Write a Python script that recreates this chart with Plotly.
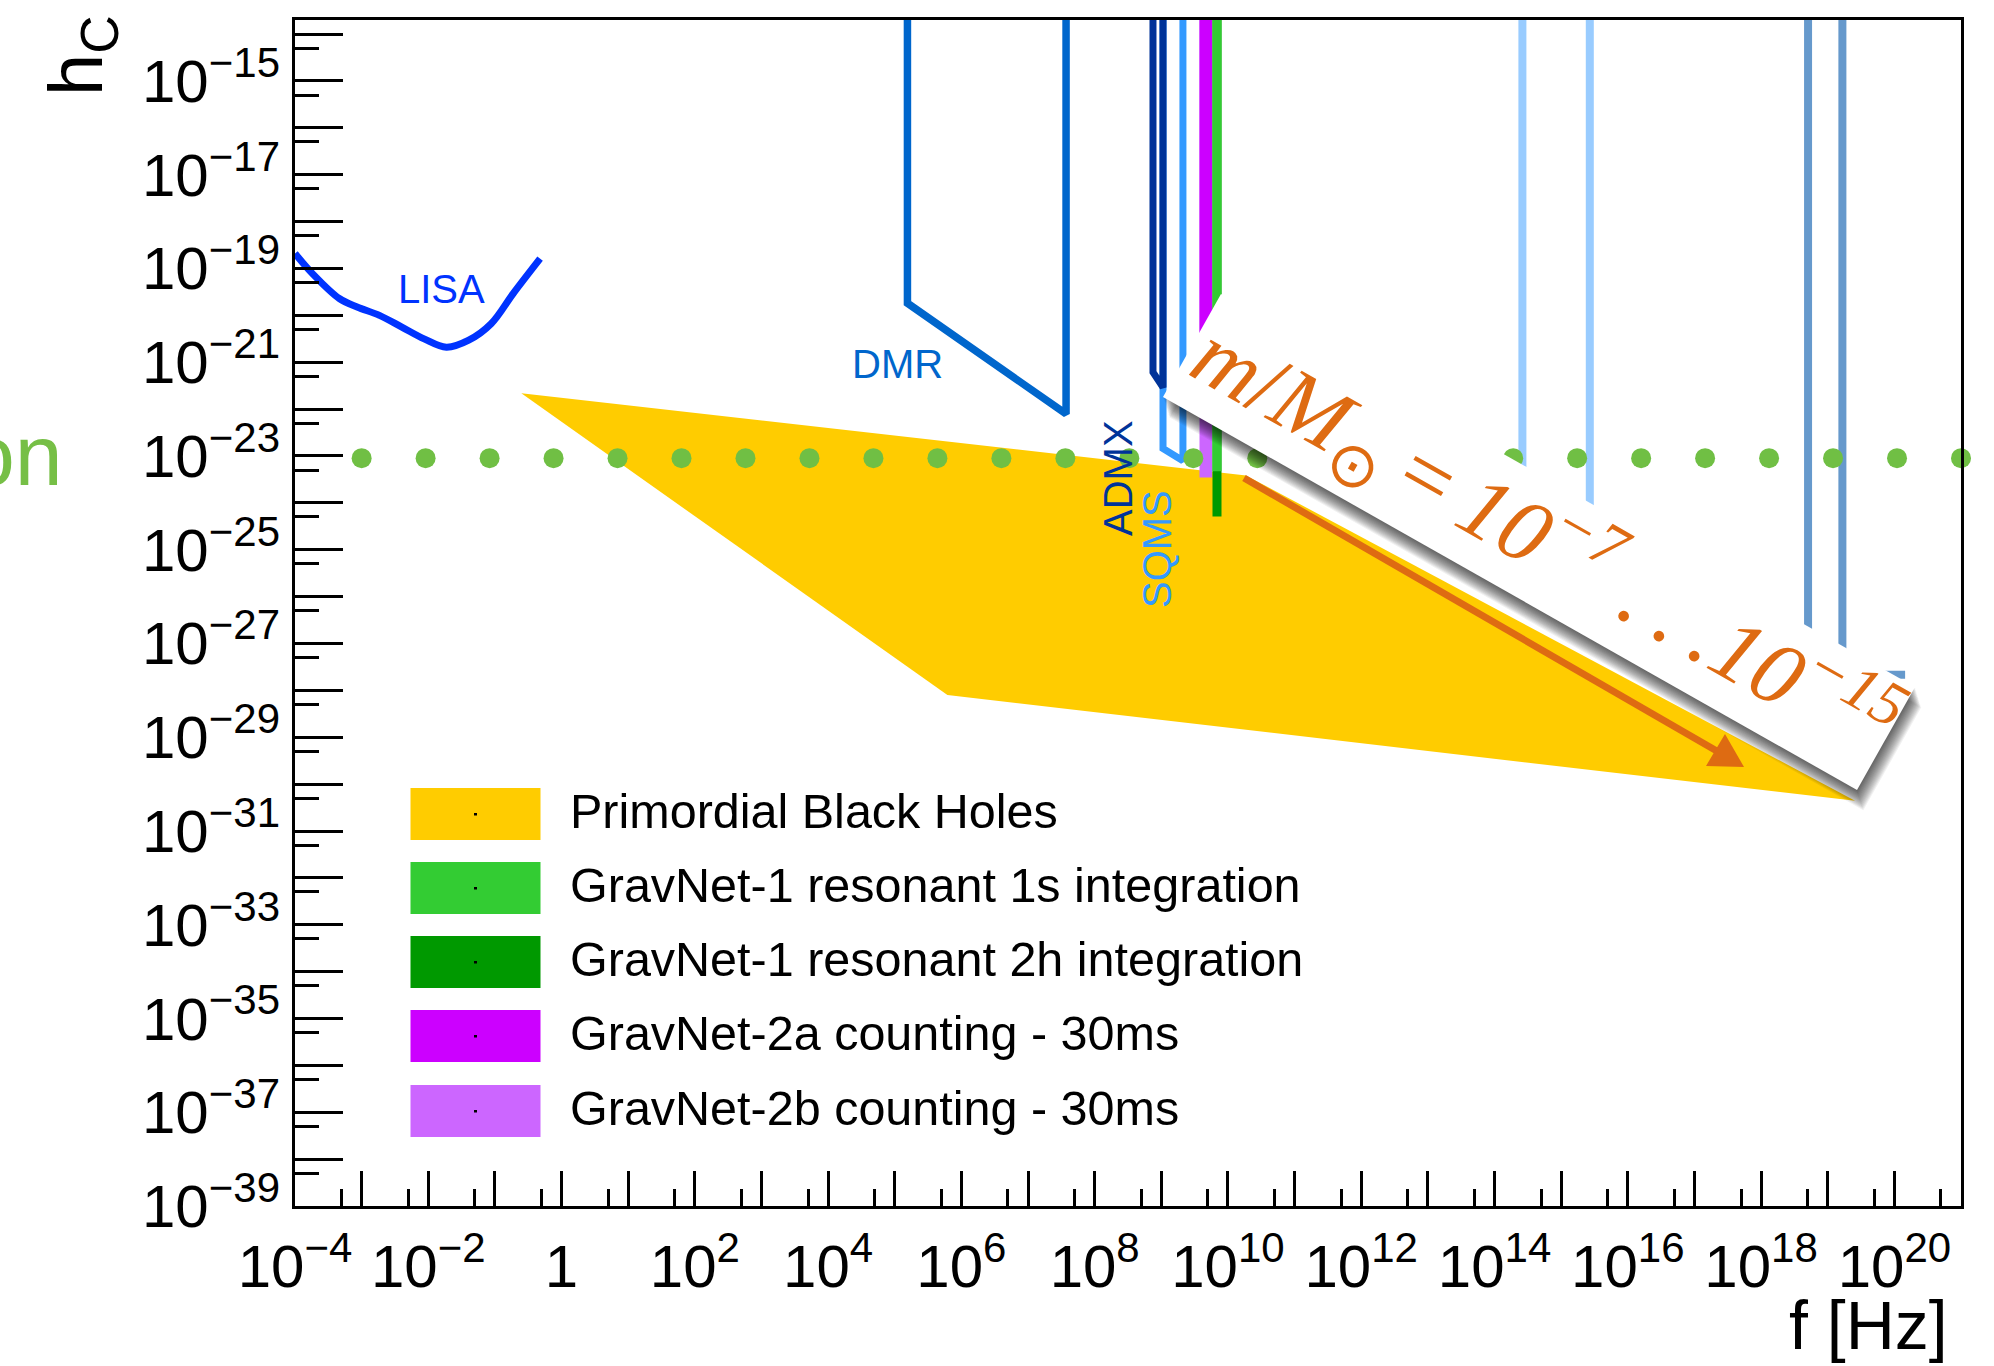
import numpy as np
import plotly.graph_objects as go

# ---------------- data (f in Hz, characteristic strain h_c) ----------------
H_TOP = 1e-13  # detector curves continue above the frame

lisa_f = [1.0e-4, 1.83e-4, 4.62e-4, 8.55e-4, 1.85e-3, 4.01e-3, 8.65e-3,
          1.87e-2, 4.05e-2, 8.77e-2, 0.189, 0.476]
lisa_h = [2.09e-19, 7.76e-20, 2.29e-20, 1.51e-20, 1.0e-20, 5.62e-21, 3.16e-21,
          2.09e-21, 2.95e-21, 6.61e-21, 2.95e-20, 1.62e-19]

dmr_f = [1.55e5, 1.55e5, 3.72e7, 3.72e7]
dmr_h = [H_TOP, 1.82e-20, 7.9e-23, H_TOP]

admx_f = [7.5e8, 7.5e8, 1.06e9, 1.06e9]
admx_h = [H_TOP, 6.1e-22, 2.9e-22, H_TOP]

sqms_f = [1.06e9, 1.06e9, 2.11e9, 2.11e9]
sqms_h = [H_TOP, 1.45e-23, 7.9e-24, H_TOP]

optical_f = [2.62e14, 2.62e14, 2.69e15, 2.69e15]
optical_h = [H_TOP, 5.9e-26, 5.9e-26, H_TOP]

xray_a_f = [5.07e18, 5.07e18]
xray_a_h = [H_TOP, 6.0e-29]
xray_b_f = [1.66e19, 1.66e19, 1.45e20]
xray_b_h = [H_TOP, 2.16e-28, 2.16e-28]

pbh_f = [0.249, 1.87e10, 2.57e19, 6.17e5]
pbh_h = [2.17e-22, 3.85e-24, 4.42e-31, 7.98e-29]

gn2_f = [3.74e9, 5.80e9]
gn2a_h = 4.0e-22
gn2b_h = 3.48e-24
gn1_f = [5.86e9, 8.0e9]
gn1_1s_h = 4.7e-24
gn1_2h_h = 5.1e-25

dotline_h = 9e-24
dotline_f = [1e-3, 1e21]
dotline_n = 26

legend_labels = ["Primordial Black Holes",
                 "GravNet-1 resonant 1s integration",
                 "GravNet-1 resonant 2h integration",
                 "GravNet-2a counting - 30ms",
                 "GravNet-2b counting - 30ms"]
legend_colors = ["#ffcc00", "#33cc33", "#009900", "#cc00ff", "#cc66ff"]

x_label_exps = list(range(-4, 21, 2))
x_plain_exps = list(range(-3, 22, 2))
y_label_exps = list(range(-39, -14, 2))
y_plain_exps = list(range(-38, -13, 2))


def exp_label(e):
    if e == 0:
        return "1"
    if e < 0:
        return "10<sup>\u2212%d</sup>" % (-e)
    return "10<sup>%d</sup>" % e


x_tickvals = [10.0 ** e for e in x_label_exps]
x_ticktext = [exp_label(e) for e in x_label_exps]
x_plain = [10.0 ** e for e in x_plain_exps]
x_minor = [5 * 10.0 ** e for e in range(-4, 21)]
y_tickvals = [10.0 ** e for e in y_label_exps]
y_ticktext = [exp_label(e) for e in y_label_exps]
y_plain = [10.0 ** e for e in y_plain_exps]
y_minor = [5 * 10.0 ** e for e in range(-39, -14)]

# ---------------- geometry helpers (pixel -> paper) ----------------
W, H = 1994, 1366
L, R, T, B = 295, 1961, 20, 1206


def P(x, y):
    return (x - L) / (R - L), (B - y) / (B - T)


def poly_path(pts):
    s = []
    for i, (x, y) in enumerate(pts):
        u, v = P(x, y)
        s.append(("M" if i == 0 else "L") + f"{u:.5f},{v:.5f}")
    return " ".join(s) + " Z"


SANS = "Liberation Sans, Arial, Helvetica, sans-serif"
SERIF = "Liberation Serif, Times New Roman, serif"
ORANGE = "#de6b12"
DOTGREEN = "#70bf44"

fig = go.Figure()


def band(f, hbot, color):
    fig.add_trace(go.Scatter(
        x=[f[0], f[1], f[1], f[0], f[0]],
        y=[H_TOP, H_TOP, hbot, hbot, H_TOP],
        mode="lines", fill="toself", fillcolor=color,
        line=dict(width=0, color=color), showlegend=False, hoverinfo="skip"))


def curve(f, h, color, width, shape="linear"):
    fig.add_trace(go.Scatter(x=f, y=h, mode="lines",
                             line=dict(color=color, width=width, shape=shape),
                             showlegend=False, hoverinfo="skip"))


# PBH region
fig.add_trace(go.Scatter(x=pbh_f + [pbh_f[0]], y=pbh_h + [pbh_h[0]], mode="lines",
                         fill="toself", fillcolor="#ffcc00",
                         line=dict(width=0, color="#ffcc00"),
                         showlegend=False, hoverinfo="skip"))

curve(optical_f, optical_h, "#99ccff", 8)
curve(xray_a_f, xray_a_h, "#6699cc", 8)
curve(xray_b_f, xray_b_h, "#6699cc", 8)
curve(dmr_f, dmr_h, "#0066cc", 7.5)

band(gn2_f, gn2b_h, "#cc66ff")
band(gn2_f, gn2a_h, "#cc00ff")
band(gn1_f, gn1_2h_h, "#009900")
band(gn1_f, gn1_1s_h, "#33cc33")

curve(sqms_f, sqms_h, "#3399ff", 7)
curve(admx_f, admx_h, "#003399", 7)
curve(lisa_f, lisa_h, "#0033ff", 7, shape="spline")

# dotted line (dot spacing is the line style)
dot_x = np.logspace(np.log10(dotline_f[0]), np.log10(dotline_f[1]), dotline_n)
fig.add_trace(go.Scatter(x=dot_x, y=[dotline_h] * dotline_n, mode="markers",
                         marker=dict(size=20, color=DOTGREEN, line=dict(width=0)),
                         cliponaxis=False, showlegend=False, hoverinfo="skip"))

# empty trace so the overlay axes (unlabelled decade ticks) exist
fig.add_trace(go.Scatter(x=[], y=[], xaxis="x2", yaxis="y2", showlegend=False,
                         hoverinfo="skip"))

shapes = []
annotations = []

# label box with soft drop shadow
BOX = [(1221, 294), (1915, 687), (1857, 790), (1163, 397)]
for k in range(1, 15):
    dx, dy = 0.45 * k, 1.45 * k
    shapes.append(dict(type="path", xref="paper", yref="paper", layer="above",
                       path=poly_path([(x + dx, y + dy) for x, y in BOX]),
                       fillcolor="rgba(0,0,0,0.058)", line=dict(width=0)))
shapes.append(dict(type="path", xref="paper", yref="paper", layer="above",
                   path=poly_path(BOX), fillcolor="white", line=dict(width=0)))

# arrow
u0, v0 = P(1244, 478)
u1, v1 = P(1722, 754)
shapes.append(dict(type="line", xref="paper", yref="paper", layer="above",
                   x0=u0, y0=v0, x1=u1, y1=v1, line=dict(color=ORANGE, width=7)))
shapes.append(dict(type="path", xref="paper", yref="paper", layer="above",
                   path=poly_path([(1744, 767), (1706, 766), (1725, 734)]),
                   fillcolor=ORANGE, line=dict(width=0)))

# legend
row_y = [814, 888, 962, 1036, 1111]
for lab, col, yc in zip(legend_labels, legend_colors, row_y):
    a0, b0 = P(410.5, yc - 26)
    a1, b1 = P(540.5, yc + 26)
    shapes.append(dict(type="rect", xref="paper", yref="paper", layer="above",
                       x0=a0, y0=b0, x1=a1, y1=b1, fillcolor=col, line=dict(width=0)))
    c0, d0 = P(474, yc - 1)
    c1, d1 = P(477, yc + 1.5)
    shapes.append(dict(type="rect", xref="paper", yref="paper", layer="above",
                       x0=c0, y0=d0, x1=c1, y1=d1, fillcolor="black", line=dict(width=0)))
    u, v = P(568, yc - 3)
    annotations.append(dict(text=lab, x=u, y=v, xref="paper", yref="paper",
                            showarrow=False, xanchor="left", yanchor="middle",
                            font=dict(family=SANS, size=48.5, color="black")))


def ann(text, x, y, size, color, family=SANS, angle=0, xanchor="center", yanchor="middle"):
    u, v = P(x, y)
    annotations.append(dict(text=text, x=u, y=v, xref="paper", yref="paper",
                            showarrow=False, textangle=angle,
                            xanchor=xanchor, yanchor=yanchor,
                            font=dict(family=family, size=size, color=color)))


TS = "\u2009"
ann("LISA", 441, 289, 40, "#0033ff")
ann("DMR", 897, 364, 40, "#0066cc")
ann("ADMX", 1118, 478, 40, "#003399", angle=-90)
ann("SQMS", 1157, 549, 40, "#3399ff", angle=-90)
ann("<i>m</i>/<i>M</i><sub>\u2299</sub>" + TS + "=" + TS +
    "<i>10<sup>\u22127</sup> ." + TS + "." + TS + ".10<sup>\u221215</sup></i>",
    1545, 541, 90, ORANGE, family=SERIF, angle=29.5)
ann("h<sub>C</sub>", 81, 56, 76, "black", angle=-90)
ann("f [Hz]", 1950, 1325, 68, "black", xanchor="right")
ann("on", 65, 455, 86, "#76bf46", xanchor="right")

axis_common = dict(type="log", showgrid=False, zeroline=False,
                   ticks="inside", tickwidth=3, tickcolor="black", tickmode="array",
                   tickfont=dict(family=SANS, size=60, color="black"),
                   automargin=False)

fig.update_layout(
    width=W, height=H, template="none",
    margin=dict(l=L, r=W - R, t=T, b=H - B, pad=0),
    paper_bgcolor="white", plot_bgcolor="white",
    showlegend=False,
    xaxis=dict(**axis_common, range=[-4, 21], ticklen=35,
               showline=True, linecolor="black", linewidth=3, mirror=True,
               tickvals=x_tickvals, ticktext=x_ticktext, ticklabelstandoff=6,
               minor=dict(tickmode="array", tickvals=x_minor, ticks="inside",
                          ticklen=17, tickwidth=3, tickcolor="black", showgrid=False)),
    yaxis=dict(**axis_common, range=[-39, np.log10(2e-14)], ticklen=48,
               showline=True, linecolor="black", linewidth=3, mirror=True,
               tickvals=y_tickvals, ticktext=y_ticktext,
               minor=dict(tickmode="array", tickvals=y_minor, ticks="inside",
                          ticklen=24, tickwidth=3, tickcolor="black", showgrid=False)),
    xaxis2=dict(**axis_common, range=[-4, 21], ticklen=35, overlaying="x",
                anchor="y2", side="bottom", showline=False, showticklabels=False,
                tickvals=x_plain),
    yaxis2=dict(**axis_common, range=[-39, np.log10(2e-14)], ticklen=48,
                overlaying="y", anchor="x2", side="left", showline=False,
                showticklabels=False, tickvals=y_plain),
    shapes=shapes, annotations=annotations,
)

fig.write_html("out.html", config={"displayModeBar": False},
               post_script="document.body.style.margin='0';")
